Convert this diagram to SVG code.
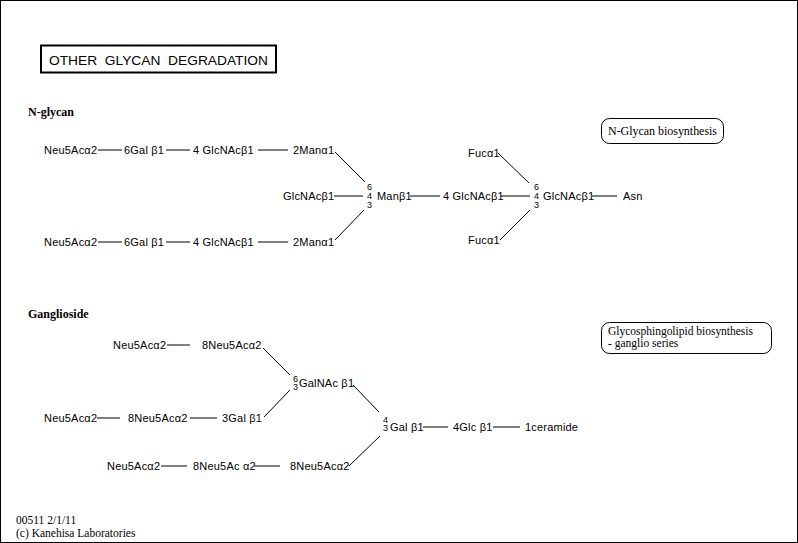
<svg xmlns="http://www.w3.org/2000/svg" width="798" height="543" viewBox="0 0 798 543">
<style>
.l{font-family:"Liberation Sans",Arial,sans-serif;font-size:11px;letter-spacing:0.2px;fill:#000}
.n{font-family:"Liberation Sans",Arial,sans-serif;font-size:9px;fill:#000}
.s{font-family:"Liberation Serif","Times New Roman",serif;font-size:12px;fill:#000}
.f{font-family:"Liberation Serif","Times New Roman",serif;font-size:11.5px;fill:#000}
.b{font-family:"Liberation Serif","Times New Roman",serif;font-size:12px;font-weight:bold;fill:#000}
.c line{stroke:#000;stroke-width:1}
.box{fill:#fff;stroke:#000;stroke-width:1}
</style>
<rect x="0.5" y="0.5" width="797" height="542" fill="#fff" stroke="#000"/>
<g id="title">
<rect x="41" y="45.5" width="235" height="27" fill="none" stroke="#000" stroke-width="2"/>
<text x="49" y="65" font-family="Liberation Sans,Arial,sans-serif" font-size="13" xml:space="preserve" textLength="219" lengthAdjust="spacingAndGlyphs">OTHER  GLYCAN  DEGRADATION</text>
</g>
<text class="b" x="28" y="116">N-glycan</text>
<text class="b" x="28" y="318">Ganglioside</text>
<g id="map-nglycan">
<rect class="box" x="601.5" y="118.5" width="122" height="25" rx="8"/>
<text class="s" x="608" y="135" textLength="109">N-Glycan biosynthesis</text>
</g>
<g id="map-ganglio">
<rect class="box" x="601.5" y="322.5" width="170" height="31" rx="8"/>
<text class="f" x="608" y="334.5" textLength="145">Glycosphingolipid biosynthesis</text>
<text class="f" x="608" y="346.5">- ganglio series</text>
</g>
<g class="c" id="connectors">
<line x1="98" y1="150" x2="122" y2="150"/>
<line x1="166" y1="150" x2="190" y2="150"/>
<line x1="258" y1="150" x2="288" y2="150"/>
<line x1="335" y1="152" x2="365" y2="182"/>
<line x1="98" y1="242" x2="122" y2="242"/>
<line x1="166" y1="242" x2="190" y2="242"/>
<line x1="258" y1="242" x2="288" y2="242"/>
<line x1="335" y1="240" x2="364" y2="210"/>
<line x1="334" y1="196" x2="363" y2="196"/>
<line x1="410" y1="196" x2="440" y2="196"/>
<line x1="501" y1="196" x2="530" y2="196"/>
<line x1="592" y1="196" x2="617" y2="196"/>
<line x1="498" y1="153" x2="529" y2="183"/>
<line x1="500" y1="240" x2="530" y2="210"/>
<line x1="167" y1="345" x2="190" y2="345"/>
<line x1="263" y1="348" x2="290" y2="375"/>
<line x1="97" y1="418" x2="120" y2="418"/>
<line x1="190" y1="418" x2="217" y2="418"/>
<line x1="264" y1="417" x2="290" y2="390"/>
<line x1="353" y1="385" x2="379" y2="412"/>
<line x1="423" y1="427" x2="448" y2="427"/>
<line x1="493" y1="427" x2="520" y2="427"/>
<line x1="161" y1="466" x2="187" y2="466"/>
<line x1="254" y1="466" x2="280" y2="466"/>
<line x1="349" y1="466" x2="380" y2="436"/>
</g>
<g id="n-neu5ac-1"><text class="l" x="44" y="154">Neu5Acα2</text></g>
<g id="n-gal-1"><text class="l" x="124" y="154">6Gal β1</text></g>
<g id="n-glcnac-1"><text class="l" x="193" y="154">4 GlcNAcβ1</text></g>
<g id="n-man-1"><text class="l" x="293" y="154">2Manα1</text></g>
<g id="n-neu5ac-2"><text class="l" x="44" y="246">Neu5Acα2</text></g>
<g id="n-gal-2"><text class="l" x="124" y="246">6Gal β1</text></g>
<g id="n-glcnac-2"><text class="l" x="193" y="246">4 GlcNAcβ1</text></g>
<g id="n-man-2"><text class="l" x="293" y="246">2Manα1</text></g>
<g id="n-glcnac-bis"><text class="l" x="283" y="200">GlcNAcβ1</text></g>
<g id="n-man-core">
<text class="n" x="367" y="190">6</text>
<text class="n" x="367" y="199">4</text>
<text class="n" x="367" y="208">3</text>
<text class="l" x="377" y="200">Manβ1</text>
</g>
<g id="n-glcnac-3"><text class="l" x="443" y="200">4 GlcNAcβ1</text></g>
<g id="n-glcnac-core">
<text class="n" x="534" y="190">6</text>
<text class="n" x="534" y="199">4</text>
<text class="n" x="534" y="208">3</text>
<text class="l" x="543" y="200">GlcNAcβ1</text>
</g>
<g id="n-asn"><text class="l" x="623" y="200">Asn</text></g>
<g id="n-fuc-1"><text class="l" x="468" y="157">Fucα1</text></g>
<g id="n-fuc-2"><text class="l" x="468" y="244">Fucα1</text></g>
<g id="g-neu5ac-a1"><text class="l" x="113" y="349">Neu5Acα2</text></g>
<g id="g-neu5ac-a2"><text class="l" x="202" y="349">8Neu5Acα2</text></g>
<g id="g-galnac">
<text class="n" x="293" y="381.5">6</text>
<text class="n" x="293" y="390">3</text>
<text class="l" x="299" y="387">GalNAc β1</text>
</g>
<g id="g-neu5ac-b1"><text class="l" x="44" y="422">Neu5Acα2</text></g>
<g id="g-neu5ac-b2"><text class="l" x="128" y="422">8Neu5Acα2</text></g>
<g id="g-gal-b"><text class="l" x="222" y="422">3Gal β1</text></g>
<g id="g-gal-core">
<text class="n" x="383" y="422.5">4</text>
<text class="n" x="383" y="431">3</text>
<text class="l" x="390" y="431">Gal β1</text>
</g>
<g id="g-glc"><text class="l" x="453" y="431">4Glc β1</text></g>
<g id="g-ceramide"><text class="l" x="525" y="431">1ceramide</text></g>
<g id="g-neu5ac-c1"><text class="l" x="107" y="470">Neu5Acα2</text></g>
<g id="g-neu5ac-c2"><text class="l" x="193" y="470">8Neu5Ac α2</text></g>
<g id="g-neu5ac-c3"><text class="l" x="290" y="470">8Neu5Acα2</text></g>
<text class="f" x="16" y="524">00511 2/1/11</text>
<text class="f" x="16" y="537">(c) Kanehisa Laboratories</text>
</svg>
